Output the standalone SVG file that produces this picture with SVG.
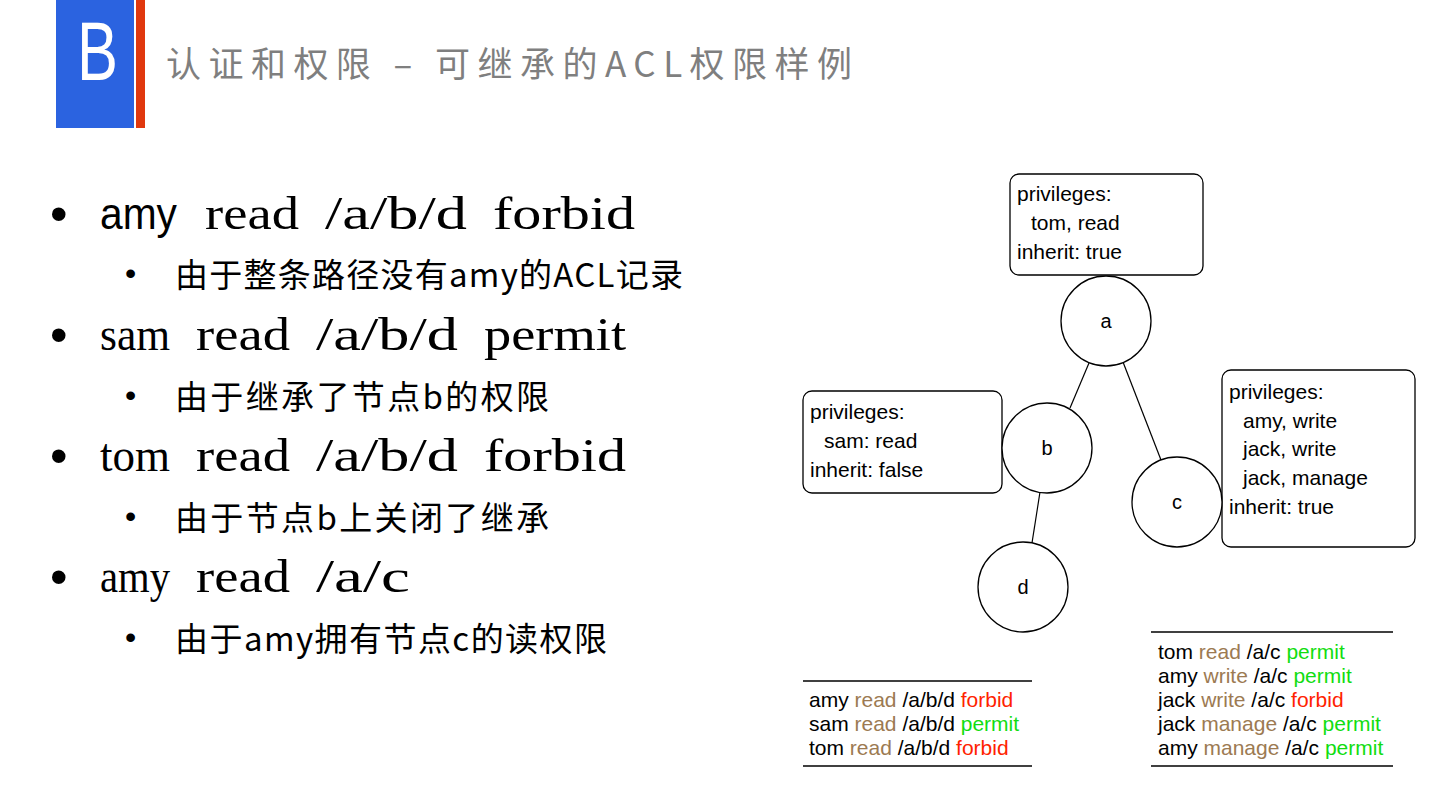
<svg xmlns="http://www.w3.org/2000/svg" width="1440" height="811" viewBox="0 0 1440 811">
<style>
.title{font-family:"Noto Sans CJK SC","Liberation Sans",sans-serif;font-size:35px;fill:#7f7f7f}
.mono{font-family:"Liberation Serif","Noto Sans CJK SC",serif;font-size:47px;fill:#000}
.sans{font-family:"Liberation Sans","Noto Sans CJK SC",sans-serif;fill:#000}
.b1{font-family:"Liberation Sans",sans-serif;font-size:50px;fill:#000}
.b2{font-family:"Liberation Sans",sans-serif;font-size:32px;fill:#000}
.sub{font-family:"Noto Sans CJK SC",sans-serif;font-size:33px;fill:#000}
.lbl{font-family:"Liberation Sans",Arial,sans-serif;font-size:21px;fill:#000}
.nl{font-family:"Liberation Sans",Arial,sans-serif;font-size:20px;fill:#000;text-anchor:middle}
.node{fill:#fff;stroke:#000;stroke-width:1.3}
.box{fill:#fff;stroke:#000;stroke-width:1.3}
.edge{stroke:#000;stroke-width:1.2;fill:none}
.rule{stroke:#000;stroke-width:1.3}
.br{fill:#9c7a52}
.gr{fill:#11dd11}
.rd{fill:#ff2200}
</style>
<rect width="1440" height="811" fill="#fff"/>
<g id="header">
<rect x="56" y="0" width="78" height="128" fill="#2b63e0"/>
<rect x="136" y="0" width="9" height="128" fill="#e0380e"/>
<text x="77" y="80" font-family="Liberation Sans,sans-serif" font-size="84" fill="#fff" textLength="41" lengthAdjust="spacingAndGlyphs">B</text>
<text class="title" x="166" y="77" textLength="686">认证和权限 – 可继承的ACL权限样例</text>
</g>
<g id="bullets">
<text class="b1" x="50" y="231">•</text>
<text class="sans" x="100" y="229" font-size="45" textLength="77" lengthAdjust="spacingAndGlyphs">amy</text>
<text class="mono" x="205" y="229" textLength="94" lengthAdjust="spacingAndGlyphs">read</text>
<text class="mono" x="325" y="229" textLength="142" lengthAdjust="spacingAndGlyphs">/a/b/d</text>
<text class="mono" x="493" y="229" textLength="142" lengthAdjust="spacingAndGlyphs">forbid</text>
<text class="b2" x="125" y="284">•</text>
<text class="sub" x="175" y="287" textLength="508">由于整条路径没有amy的ACL记录</text>
<text class="b1" x="50" y="352">•</text>
<text class="mono" x="100" y="350" textLength="70" lengthAdjust="spacingAndGlyphs">sam</text>
<text class="mono" x="196" y="350" textLength="94" lengthAdjust="spacingAndGlyphs">read</text>
<text class="mono" x="316" y="350" textLength="142" lengthAdjust="spacingAndGlyphs">/a/b/d</text>
<text class="mono" x="484" y="350" textLength="142" lengthAdjust="spacingAndGlyphs">permit</text>
<text class="b2" x="125" y="406">•</text>
<text class="sub" x="175" y="409" textLength="374">由于继承了节点b的权限</text>
<text class="b1" x="50" y="473">•</text>
<text class="mono" x="100" y="471" textLength="70" lengthAdjust="spacingAndGlyphs">tom</text>
<text class="mono" x="196" y="471" textLength="94" lengthAdjust="spacingAndGlyphs">read</text>
<text class="mono" x="316" y="471" textLength="142" lengthAdjust="spacingAndGlyphs">/a/b/d</text>
<text class="mono" x="484" y="471" textLength="142" lengthAdjust="spacingAndGlyphs">forbid</text>
<text class="b2" x="125" y="527">•</text>
<text class="sub" x="175" y="530" textLength="374">由于节点b上关闭了继承</text>
<text class="b1" x="50" y="594">•</text>
<text class="mono" x="100" y="592" textLength="70" lengthAdjust="spacingAndGlyphs">amy</text>
<text class="mono" x="196" y="592" textLength="94" lengthAdjust="spacingAndGlyphs">read</text>
<text class="mono" x="316" y="592" textLength="94" lengthAdjust="spacingAndGlyphs">/a/c</text>
<text class="b2" x="125" y="648">•</text>
<text class="sub" x="175" y="651" textLength="432">由于amy拥有节点c的读权限</text>
</g>
<g id="connectors">
<line class="edge" x1="1089" y1="363" x2="1070" y2="408"/>
<line class="edge" x1="1123" y1="362" x2="1161" y2="460"/>
<line class="edge" x1="1040" y1="492" x2="1032" y2="543"/>
</g>
<g id="box-a">
<rect class="box" x="1010" y="174" width="193" height="101" rx="9"/>
<text class="lbl" x="1017" y="201">privileges:</text>
<text class="lbl" x="1031" y="230">tom, read</text>
<text class="lbl" x="1017" y="259">inherit: true</text>
</g>
<g id="box-b">
<rect class="box" x="803" y="391" width="199" height="102" rx="9"/>
<text class="lbl" x="810" y="419">privileges:</text>
<text class="lbl" x="824" y="448">sam: read</text>
<text class="lbl" x="810" y="477">inherit: false</text>
</g>
<g id="box-c">
<rect class="box" x="1222" y="370" width="193" height="177" rx="9"/>
<text class="lbl" x="1229" y="399">privileges:</text>
<text class="lbl" x="1243" y="428">amy, write</text>
<text class="lbl" x="1243" y="456">jack, write</text>
<text class="lbl" x="1243" y="485">jack, manage</text>
<text class="lbl" x="1229" y="514">inherit: true</text>
</g>
<g id="node-a">
<circle class="node" cx="1106" cy="321" r="45"/>
<text class="nl" x="1106" y="328">a</text>
</g>
<g id="node-b">
<circle class="node" cx="1047" cy="448" r="45"/>
<text class="nl" x="1047" y="455">b</text>
</g>
<g id="node-c">
<circle class="node" cx="1177" cy="502" r="45"/>
<text class="nl" x="1177" y="509">c</text>
</g>
<g id="node-d">
<circle class="node" cx="1023" cy="587" r="45"/>
<text class="nl" x="1023" y="594">d</text>
</g>
<g id="table-left">
<line class="rule" x1="803" y1="681" x2="1032" y2="681"/>
<text class="lbl" x="809" y="707">amy <tspan class="br">read</tspan> /a/b/d <tspan class="rd">forbid</tspan></text>
<text class="lbl" x="809" y="731">sam <tspan class="br">read</tspan> /a/b/d <tspan class="gr">permit</tspan></text>
<text class="lbl" x="809" y="755">tom <tspan class="br">read</tspan> /a/b/d <tspan class="rd">forbid</tspan></text>
<line class="rule" x1="803" y1="766" x2="1032" y2="766"/>
</g>
<g id="table-right">
<line class="rule" x1="1151" y1="632" x2="1393" y2="632" stroke-width="2"/>
<text class="lbl" x="1158" y="659">tom <tspan class="br">read</tspan> /a/c <tspan class="gr">permit</tspan></text>
<text class="lbl" x="1158" y="683">amy <tspan class="br">write</tspan> /a/c <tspan class="gr">permit</tspan></text>
<text class="lbl" x="1158" y="707">jack <tspan class="br">write</tspan> /a/c <tspan class="rd">forbid</tspan></text>
<text class="lbl" x="1158" y="731">jack <tspan class="br">manage</tspan> /a/c <tspan class="gr">permit</tspan></text>
<text class="lbl" x="1158" y="755">amy <tspan class="br">manage</tspan> /a/c <tspan class="gr">permit</tspan></text>
<line class="rule" x1="1151" y1="766" x2="1393" y2="766"/>
</g>
</svg>
